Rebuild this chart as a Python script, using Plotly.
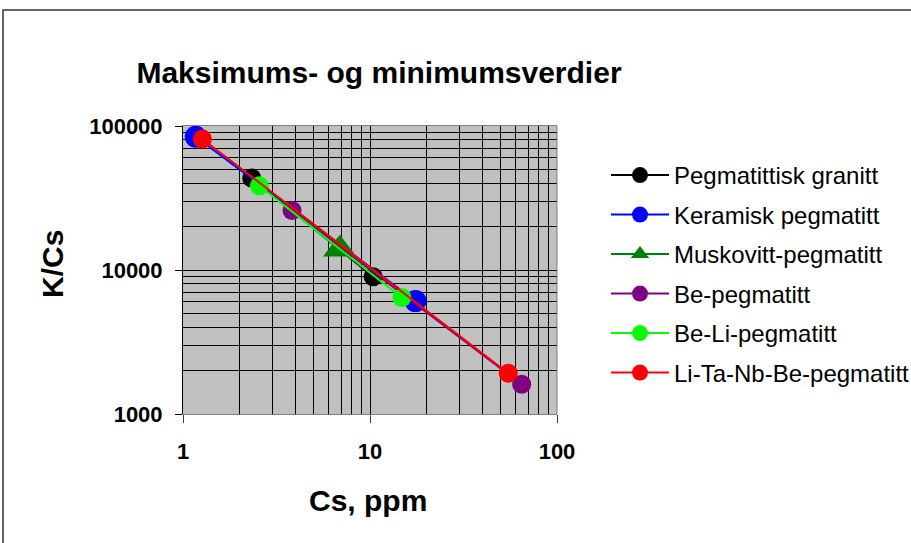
import plotly.graph_objects as go

# ---- data ----
series_names = ["Pegmatittisk granitt", "Keramisk pegmatitt", "Muskovitt-pegmatitt",
                "Be-pegmatitt", "Be-Li-pegmatitt", "Li-Ta-Nb-Be-pegmatitt"]
cs_granitt = [2.33, 10.4]
kcs_granitt = [43500, 8980]
cs_keramisk = [1.17, 17.5]
kcs_keramisk = [84300, 6080]
cs_muskovitt = [6.7, 6.9]
kcs_muskovitt = [13700, 14400]
cs_be = [3.83, 64.7]
kcs_be = [25900, 1610]
cs_beli = [2.56, 14.8]
kcs_beli = [38400, 6430]
cs_litanb = [1.27, 54.9]
kcs_litanb = [81300, 1920]

x_tickvals = [1, 10, 100]
x_ticktext = ["1", "10", "100"]
y_tickvals = [1000, 10000, 100000]
y_ticktext = ["1000", "10000", "100000"]

colors = ["#000000", "#0000FF", "#008000", "#800080", "#00FF00", "#FF0000"]
symbols = ["circle", "circle", "triangle-up", "circle", "circle", "circle"]
msizes = [19, 22, 25, 19, 19, 19]

xs = [cs_granitt, cs_keramisk, cs_muskovitt, cs_be, cs_beli, cs_litanb]
ys = [kcs_granitt, kcs_keramisk, kcs_muskovitt, kcs_be, kcs_beli, kcs_litanb]

FONT = "Liberation Sans, Arial, sans-serif"

fig = go.Figure()
for i, name in enumerate(series_names):
    fig.add_trace(go.Scatter(
        x=xs[i], y=ys[i], name=name, mode="lines+markers",
        line=dict(color=colors[i], width=2),
        marker=dict(color=colors[i], symbol=symbols[i], size=msizes[i], line=dict(width=0)),
        legendgroup=name,
    ))

L, R, T, B = 183, 354, 126, 129
W, H = 911, 543
pw, ph = W - L - R, H - T - B

def px_x(p):
    return (p - L) / pw

def px_y(p):
    return (H - B - p) / ph

fig.update_layout(
    width=W, height=H,
    margin=dict(l=L, r=R, t=T, b=B, autoexpand=False),
    paper_bgcolor="white",
    plot_bgcolor="#C0C0C0",
    font=dict(family=FONT, color="black"),
    title=dict(text="Maksimums- og minimumsverdier", x=379 / W, xanchor="center",
               y=1 - 72 / H, yanchor="middle",
               font=dict(family=FONT, size=30, weight="bold", color="black")),
    showlegend=True,
    legend=dict(x=px_x(606), y=px_y(153), xanchor="left", yanchor="top",
                font=dict(family=FONT, size=24, color="black"),
                bgcolor="rgba(0,0,0,0)", tracegroupgap=5.3, itemwidth=58,
                itemsizing="trace"),
    xaxis=dict(type="log", range=[0, 2], tickvals=x_tickvals, ticktext=x_ticktext,
               showgrid=True, gridcolor="black", gridwidth=1,
               minor=dict(dtick="D1", showgrid=True, gridcolor="black", gridwidth=1, ticks=""),
               ticks="outside", ticklen=8, tickcolor="#404040", tickwidth=1,
               showline=True, linecolor="#808080", linewidth=1, mirror=True,
               tickfont=dict(family=FONT, size=22, weight="bold", color="black"),
               ticklabelstandoff=10, zeroline=False, fixedrange=True),
    yaxis=dict(type="log", range=[3, 5], tickvals=y_tickvals, ticktext=y_ticktext,
               showgrid=True, gridcolor="black", gridwidth=1,
               minor=dict(dtick="D1", showgrid=True, gridcolor="black", gridwidth=1, ticks=""),
               ticks="outside", ticklen=7, tickcolor="black", tickwidth=1,
               showline=True, linecolor="black", linewidth=1, mirror=False,
               tickfont=dict(family=FONT, size=22, weight="bold", color="black"),
               ticklabelstandoff=8, zeroline=False, fixedrange=True),
    annotations=[
        dict(text="K/Cs", xref="paper", yref="paper", x=px_x(52), y=px_y(264),
             xanchor="center", yanchor="middle", textangle=-90, showarrow=False,
             font=dict(family=FONT, size=30, weight="bold", color="black")),
        dict(text="Cs, ppm", xref="paper", yref="paper", x=px_x(368), y=px_y(500),
             xanchor="center", yanchor="middle", showarrow=False,
             font=dict(family=FONT, size=30, weight="bold", color="black")),
    ],
    shapes=[
        dict(type="rect", xref="paper", yref="paper", x0=px_x(3), x1=px_x(930),
             y0=px_y(560), y1=px_y(10), line=dict(color="#333333", width=1.5),
             fillcolor="rgba(0,0,0,0)", layer="below"),
        dict(type="line", xref="paper", yref="paper", x0=1, x1=1, y0=0, y1=1,
             line=dict(color="#808080", width=1)),
    ],
)

fig.write_html("out.html")
